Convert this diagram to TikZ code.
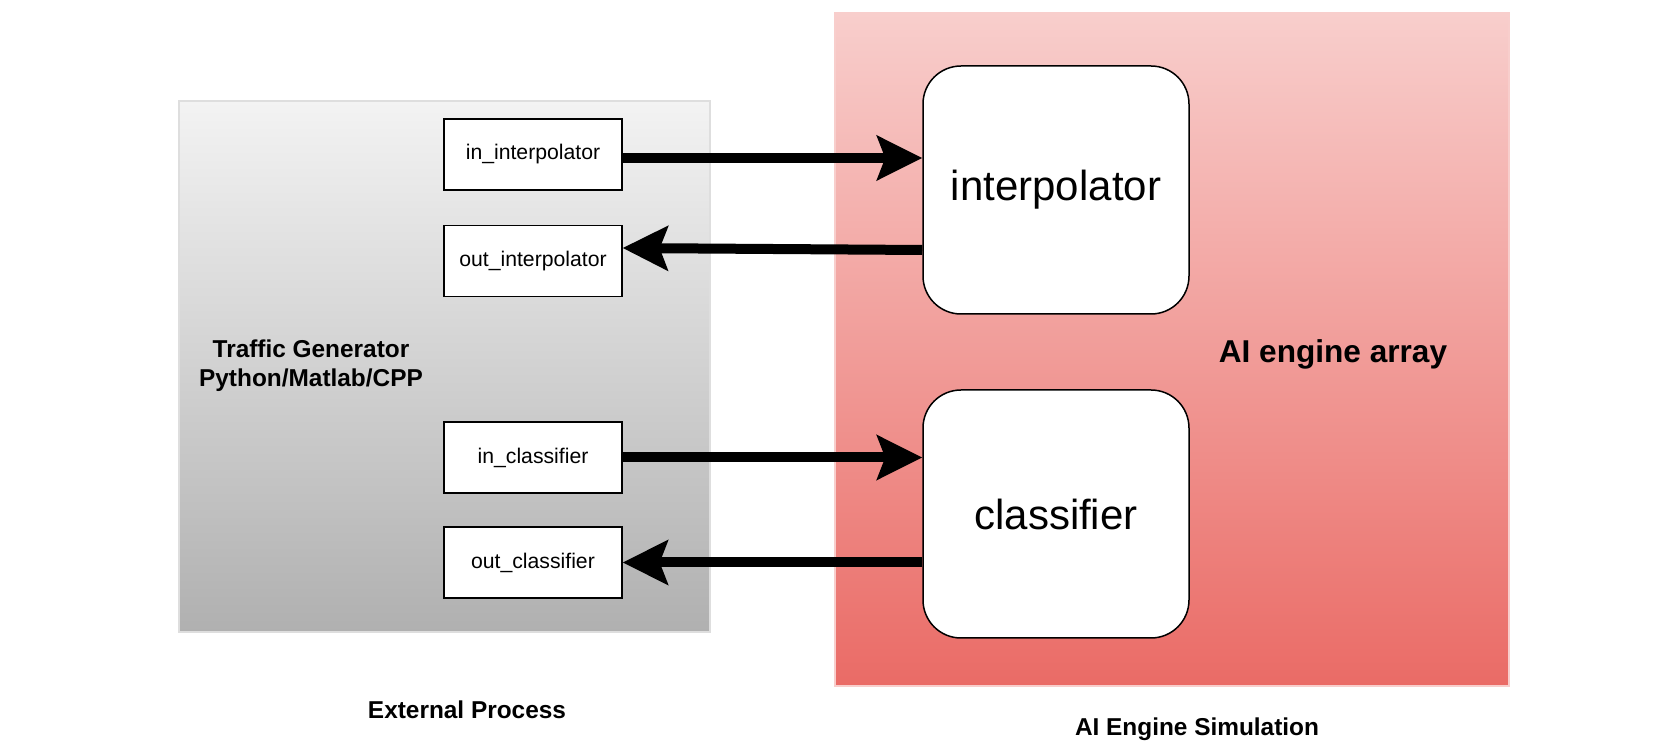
\documentclass[tikz,border=0pt]{standalone}
\usepackage{fontspec}
\setmainfont{Liberation Sans}
\usetikzlibrary{arrows.meta}
\definecolor{grayTop}{HTML}{F3F3F3}
\definecolor{grayBot}{HTML}{B0B0B0}
\definecolor{grayEdge}{HTML}{DEDEDE}
\definecolor{redTop}{HTML}{F8CECC}
\definecolor{redBot}{HTML}{EA6B66}
\definecolor{redEdge}{HTML}{F8CECC}
\begin{document}
\begin{tikzpicture}[x=0.5pt,y=-0.5pt,
 port/.style={draw=black, line width=0.65pt, fill=white, minimum width=89pt, minimum height=35.5pt, inner sep=0pt, font=\fontsize{10.6}{12}\selectfont},
 engine/.style={draw=black, line width=0.75pt, fill=white, rounded corners=19pt, minimum width=133pt, minimum height=124pt, inner sep=0pt, font=\fontsize{21}{24}\selectfont},
 bigarrow/.style={line width=5pt, -{Stealth[length=22.5pt,width=22pt,inset=4pt]}},
 caption/.style={font=\bfseries\fontsize{12.2}{14.5}\selectfont, inner sep=0pt}]
\useasboundingbox (0,0) rectangle (1678,753);
% containers
\shade[top color=grayTop, bottom color=grayBot] (179,101) rectangle (710,632);
\draw[grayEdge, line width=0.6pt] (179,101) rectangle (710,632);
\shade[top color=redTop, bottom color=redBot] (835,13) rectangle (1509,686);
\draw[redEdge, line width=0.6pt] (835,13) rectangle (1509,686);
% ports
\node[port] (inI) at (533,154.5) {in\_interpolator};
\node[port] (outI) at (533,261) {out\_interpolator};
\node[port] (inC) at (533,457.5) {in\_classifier};
\node[port] (outC) at (533,562.5) {out\_classifier};
% engines
\node[engine] (interp) at (1056,190) {interpolator};
\node[engine] (classif) at (1056,514) {classifier};
% labels
\node[caption, align=center] (tg) at (311,365.5) {Traffic Generator\\Python/Matlab/CPP};
\node[font=\bfseries\fontsize{15.8}{19}\selectfont, inner sep=0pt] (arr) at (1333,354) {AI engine array};
\node[caption] (ext) at (467,709.5) {External Process};
\node[caption] (sim) at (1197,729) {AI Engine Simulation};
% arrows
\draw[bigarrow] (inI.east |- 0,158) -- (interp.west |- 0,158);
\draw[bigarrow] (interp.west |- 0,250) -- (outI.east |- 0,248);
\draw[bigarrow] (inC.east) -- (classif.west |- inC.east);
\draw[bigarrow] (classif.west |- outC.east) -- (outC.east);
\end{tikzpicture}
\end{document}
